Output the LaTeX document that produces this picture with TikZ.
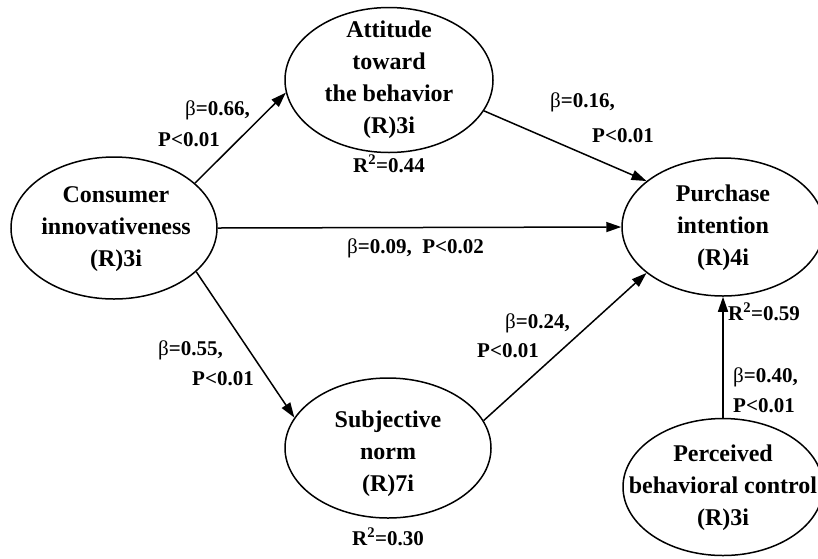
\documentclass[tikz,border=0pt]{standalone}
\usepackage{fontspec}
\setmainfont{Liberation Serif}
\usetikzlibrary{shapes.geometric,arrows.meta}

\begin{document}
\begin{tikzpicture}[x=1pt, y=-1pt,
    latent/.style={ellipse, draw, line width=1.5pt, inner sep=0pt},
    latentname/.style={align=center, inner sep=0pt, font=\bfseries\fontsize{24}{32}\selectfont},
    coef/.style={anchor=base west, inner sep=0pt, font=\bfseries\fontsize{21}{26}\selectfont},
    path/.style={line width=1.5pt, -{Triangle[length=15pt,width=10pt]}}]

    % 画布大小
    \useasboundingbox (0,0) rectangle (818,558);
    \clip (0,0) rectangle (818,558);

    % 绘制五个潜变量椭圆
    \node[latent, minimum width=208, minimum height=145] (att) at (389,80) {}; % 态度
    \node[latent, minimum width=206, minimum height=142] (ci) at (114,228) {}; % 消费者创新性
    \node[latent, minimum width=202, minimum height=138] (pi) at (723,227) {}; % 购买意愿
    \node[latent, minimum width=206, minimum height=140] (sn) at (388,448) {}; % 主观规范
    \node[latent, minimum width=200, minimum height=137] (pb) at (723,487) {}; % 知觉行为控制

    % 椭圆内的文字
    \node[latentname] (att-t) at (389,80) {Attitude\\toward\\the behavior\\(R)3i};
    \node[latentname] (ci-t) at (116,229) {Consumer\\innovativeness\\(R)3i};
    \node[latentname] (pi-t) at (723,228) {Purchase\\intention\\(R)4i};
    \node[latentname] (sn-t) at (388,454) {Subjective\\norm\\(R)7i};
    \node[latentname] (pb-t) at (723,488) {Perceived\\behavioral control\\(R)3i};

    % 绘制路径箭头
    \draw[path] (ci.29) -- (att.187); % ci -> att
    \draw[path] (att.-18) -- (pi.149); % att -> pi
    \draw[path] (ci.east) -- (pi.west); % ci -> pi
    \draw[path] (ci.-28) -- (sn.162); % ci -> sn
    \draw[path] (sn.16) -- (pi.211); % sn -> pi
    \draw[path] (pb.north) -- (pb.north |- pi.south); % pb -> pi

    % 路径系数
    \node[coef] (b66) at (185,115) {\textmd{β}=0.66,};
    \node[coef] (p66) at (158,146) {P<0.01};
    \node[coef] (b16) at (550,107) {\textmd{β}=0.16,};
    \node[coef] (p16) at (592,142) {P<0.01};
    \node[coef] (b09) at (347,253) {\textmd{β}=0.09,\ \ P<0.02};
    \node[coef] (b24) at (505,328) {\textmd{β}=0.24,};
    \node[coef] (p24) at (477,357) {P<0.01};
    \node[coef] (b55) at (158,355) {\textmd{β}=0.55,};
    \node[coef] (p55) at (192,385) {P<0.01};
    \node[coef] (b40) at (733,382) {\textmd{β}=0.40,};
    \node[coef] (p40) at (733,412) {P<0.01};

    % 决定系数
    \node[coef] (r44) at (353,172) {R\textsuperscript{2}=0.44};
    \node[coef] (r59) at (728,320) {R\textsuperscript{2}=0.59};
    \node[coef] (r30) at (352,545) {R\textsuperscript{2}=0.30};

\end{tikzpicture}
\end{document}
